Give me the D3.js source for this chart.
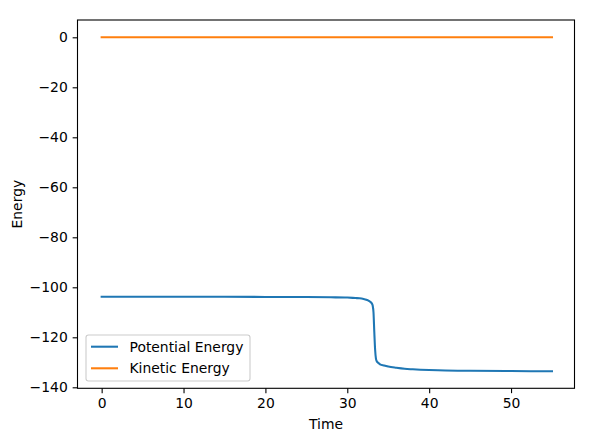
<!DOCTYPE html>
<html><head><meta charset="utf-8">
<script src="https://cdn.jsdelivr.net/npm/d3@7"></script>
<style>body{margin:0;background:#fff}svg{display:block}text{font-family:"DejaVu Sans",sans-serif;fill:#000}</style>
</head><body><svg id="c" width="604" height="437"></svg>
<script>
const times = [0, 5, 10, 15, 20, 25, 28, 30, 31, 31.5, 32, 32.5, 32.8, 33.0, 33.1, 33.2, 33.3, 33.4, 33.5, 33.6, 33.8, 34, 34.5, 35, 36, 37, 38, 40, 42, 45, 50, 55];
const potential = [-103.8, -103.8, -103.8, -103.8, -103.85, -103.9, -104.0, -104.1, -104.3, -104.4, -104.7, -105.2, -105.8, -106.5, -107.3, -110, -118, -125, -128.5, -129.6, -130.3, -130.8, -131.3, -131.7, -132.2, -132.6, -132.8, -133.1, -133.3, -133.4, -133.5, -133.6];
const kineticTimes = [0, 10, 20, 30, 40, 50, 55];
const kinetic = [0, 0, 0, 0, 0, 0, 0];
const xTicks = [0, 10, 20, 30, 40, 50];
const yTicks = [0, -20, -40, -60, -80, -100, -120, -140];
const seriesNames = ["Potential Energy", "Kinetic Energy"];
const colors = ["#1f77b4", "#ff7f0e"];

const L = 77.5, R = 574.5, T = 20, B = 388.3;
const svg = d3.select("#c");
const x = d3.scaleLinear().domain([-2.95, 57.75]).range([L, R]);
const y = d3.scaleLinear().domain([-140.4, 6.92]).range([B, T]);

const clip = svg.append("defs").append("clipPath").attr("id","clip").append("rect")
  .attr("x", L).attr("y", T).attr("width", R-L).attr("height", B-T);

const line = d3.line().x(d => x(d[0])).y(d => y(d[1])).curve(d3.curveMonotoneX);
const g = svg.append("g").attr("clip-path","url(#clip)");
g.append("path").datum(times.map((t,i)=>[t, potential[i]]))
  .attr("d", line).attr("fill","none").attr("stroke",colors[0]).attr("stroke-width",2.08).attr("stroke-linecap","square");
g.append("path").datum(kineticTimes.map((t,i)=>[t, kinetic[i]]))
  .attr("d", line).attr("fill","none").attr("stroke",colors[1]).attr("stroke-width",2.08).attr("stroke-linecap","square");

const fs = "13.9px";
const xa = svg.append("g").attr("transform",`translate(0,${B})`)
  .call(d3.axisBottom(x).tickValues(xTicks).tickSize(4.86).tickPadding(4.9).tickFormat(d3.format("d")));
const ya = svg.append("g").attr("transform",`translate(${L},0)`)
  .call(d3.axisLeft(y).tickValues(yTicks).tickSize(4.86).tickPadding(4.9).tickFormat(d => d < 0 ? "\u2212" + Math.abs(d) : String(d)));
[xa, ya].forEach(a => {
  a.select(".domain").remove();
  a.selectAll("line").attr("stroke","#000").attr("stroke-width",1.1);
  a.selectAll("text").style("font-size",fs).style("font-family","DejaVu Sans").attr("fill","#000");
});

svg.append("rect").attr("x",L).attr("y",T).attr("width",R-L).attr("height",B-T)
  .attr("fill","none").attr("stroke","#000").attr("stroke-width",1.1);

svg.append("text").attr("x",(L+R)/2).attr("y",429).attr("text-anchor","middle").style("font-size",fs).text("Time");
svg.append("text").attr("transform",`translate(22,${(T+B)/2}) rotate(-90)`).attr("text-anchor","middle").style("font-size",fs).text("Energy");

const lg = svg.append("g");
lg.append("rect").attr("x",86).attr("y",335).attr("width",164).attr("height",46).attr("rx",2.5)
  .attr("fill","#fff").attr("fill-opacity",0.8).attr("stroke","#ccc").attr("stroke-width",1.1);
seriesNames.forEach((n,i) => {
  const yy = 346.7 + i*21.6;
  lg.append("line").attr("x1",91).attr("x2",118).attr("y1",yy).attr("y2",yy).attr("stroke",colors[i]).attr("stroke-width",2.08);
  lg.append("text").attr("x",129.5).attr("y",yy).attr("dy","0.36em").style("font-size",fs).text(n);
});
</script></body></html>
